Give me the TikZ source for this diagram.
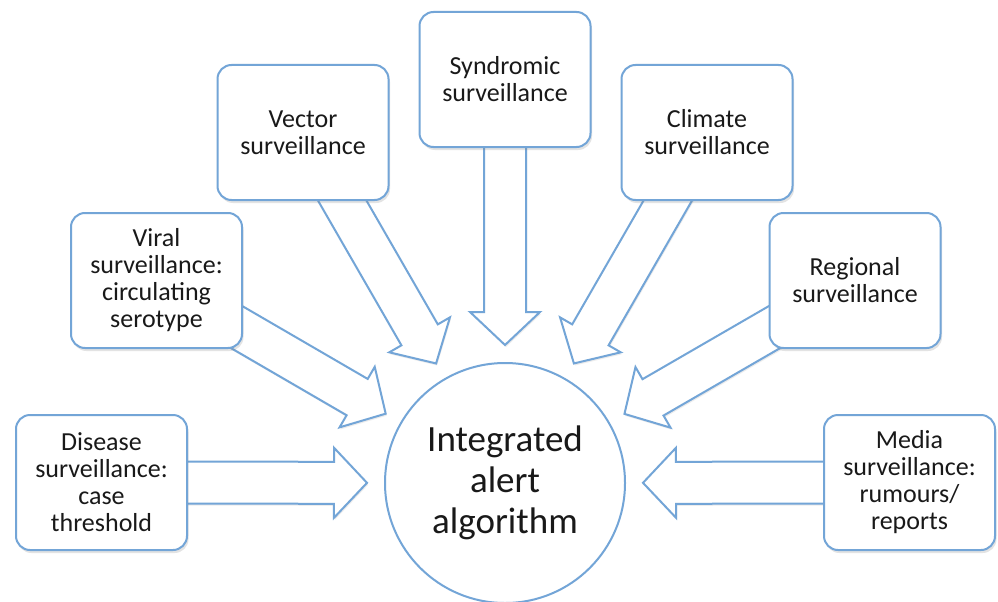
\documentclass[tikz,border=0pt]{standalone}
\usepackage{fontspec}
\setmainfont{Carlito}
\usetikzlibrary{calc,shadows}
\pgfdeclarelayer{background}
\pgfsetlayers{background,main}
\definecolor{edgeblue}{RGB}{115,165,215}
\definecolor{txt}{RGB}{25,25,25}
\newcommand\blockarr[2]{%
  \coordinate (tip) at ($(#2)!138pt!(#1)$);
  \coordinate (hb) at ($(tip)!33pt!(#1)$);
  \draw[barrow] ($(#1)!21pt!90:(tip)$) -- ($(hb)!21pt!90:(tip)$) -- ($(hb)!35pt!90:(tip)$) -- (tip)
    -- ($(hb)!35pt!-90:(tip)$) -- ($(hb)!21pt!-90:(tip)$) -- ($(#1)!21pt!-90:(tip)$) -- cycle;}
\tikzset{
  box/.style={draw=edgeblue, line width=2pt, rounded corners=14pt, fill=white,
    minimum width=171pt, minimum height=135pt, align=center, text=txt, inner sep=2pt,
    font=\fontsize{26}{27}\selectfont,
    drop shadow={shadow xshift=1.5pt, shadow yshift=-3pt, opacity=0.22}},
  hub/.style={circle, draw=edgeblue, line width=2pt, fill=white, minimum size=240pt,
    inner sep=0pt, align=center, text=txt, font=\fontsize{37}{41}\selectfont},
  barrow/.style={draw=edgeblue, line width=2pt, fill=white, line join=miter,
    drop shadow={shadow xshift=1pt, shadow yshift=-2pt, opacity=0.15}}
}
\begin{document}
\begin{tikzpicture}[x=1pt,y=-1pt]
\useasboundingbox (0,0) rectangle (998,602);
\node[hub] (alg) at (505,483) {Integrated\\alert\\algorithm};
\node[box] (syn) at (505,79.5) {Syndromic\\surveillance};
\node[box] (vec) at (303,132.5) {Vector\\surveillance};
\node[box] (cli) at (707,132.5) {Climate\\surveillance};
\node[box] (vir) at (156.5,280.5) {Viral\\surveillance:\\circulating\\serotype};
\node[box] (reg) at (855,280.5) {Regional\\surveillance};
\node[box] (dis) at (101.5,482.5) {Disease\\surveillance:\\case\\threshold};
\node[box] (med) at (909.5,482.5) {Media\\surveillance:\\rumours/\\reports};
\begin{pgfonlayer}{background}
\fill[white] (0,0) rectangle (998,602);
\blockarr{syn}{alg}
\blockarr{vec}{alg}
\blockarr{cli}{alg}
\blockarr{vir}{alg}
\blockarr{reg}{alg}
\blockarr{dis}{alg}
\blockarr{med}{alg}
\end{pgfonlayer}
\end{tikzpicture}
\end{document}
